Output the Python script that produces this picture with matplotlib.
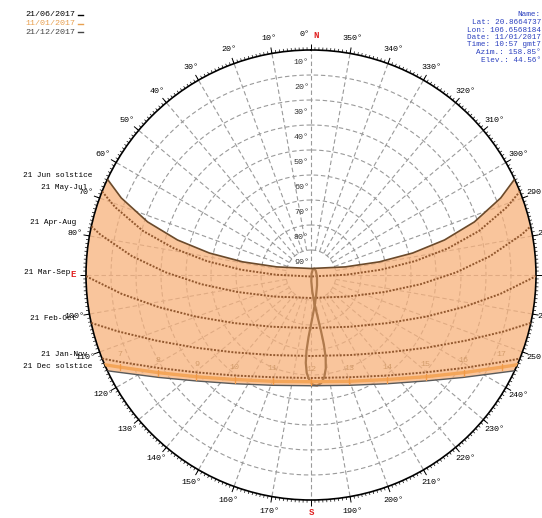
import numpy as np
import matplotlib
matplotlib.use("Agg")
import matplotlib.pyplot as plt

# sun positions, afternoon half (hour angle 0, 15, 30 ... deg, last = sunset)
# the morning half is the mirror image about the N-S line
paths = {
    "21 Jun solstice": ([87.4, 75.9, 62.1, 48.4, 34.8, 21.3, 8.1, 0.0],
                        [0.0, 283.3, 280.9, 282.2, 284.7, 288.0, 292.1, 295.2]),
    "21 May-Jul": ([89.4, 76.0, 62.0, 48.0, 34.2, 20.5, 7.1, 0.0],
                   [180.0, 270.4, 274.3, 277.6, 281.0, 284.7, 289.1, 291.8]),
    "21 Apr-Aug": ([80.8, 72.9, 59.8, 46.0, 32.0, 18.0, 4.1, 0.0],
                   [180.0, 239.7, 257.0, 265.2, 271.0, 276.0, 280.9, 282.5]),
    "21 Mar-Sep": ([68.8, 64.2, 53.8, 41.2, 27.7, 13.9, 0.0],
                   [180.0, 216.6, 237.9, 250.0, 258.1, 264.3, 269.7]),
    "21 Feb-Oct": ([57.6, 54.4, 46.2, 35.2, 22.8, 9.6, 0.0],
                   [180.0, 205.9, 225.1, 238.0, 247.0, 253.7, 257.7]),
    "21 Jan-Nov": ([48.8, 46.3, 39.4, 29.7, 18.3, 5.9, 0.0],
                   [180.0, 200.6, 217.4, 229.8, 238.8, 245.6, 248.2]),
    "21 Dec solstice": ([45.7, 43.3, 36.9, 27.7, 16.7, 4.6, 0.0],
                        [180.0, 199.1, 215.0, 227.1, 236.0, 242.8, 244.8]),
}
today_alt = [47.3, 44.8, 38.2, 28.7, 17.5, 5.3, 0.0]
today_az = [180.0, 199.8, 216.2, 228.4, 237.4, 244.2, 246.5]
today_hours = [12, 13, 14, 15, 16, 17]

# analemma at 12:00 local time, every 14 days through the year
analemma_alt = [46.1, 47.9, 50.8, 54.8, 59.7, 65.1, 70.7, 76.2, 81.2, 85.2, 87.5, 87.5, 87.1, 87.7,
                89.5, 87.5, 83.5, 78.7, 73.2, 67.4, 61.8, 56.6, 52.2, 48.8, 46.6, 45.7, 46.0]
analemma_az = [181.0, 179.1, 177.5, 176.6, 176.6, 177.7, 180.3, 184.9, 193.2, 210.2, 253.2, 308.4, 332.3, 342.6,
               335.3, 182.8, 184.4, 186.9, 188.9, 190.1, 190.5, 190.1, 189.0, 187.4, 185.4, 183.2, 181.1]

legend_dates = ["21/06/2017", "11/01/2017", "21/12/2017"]
info_lines = ["Name:", "Lat: 20.8664737", "Lon: 106.6568184", "Date: 11/01/2017",
              "Time: 10:57 gmt7", "Azim.: 158.85\u00b0", "Elev.: 44.56\u00b0"]
alt_rings = [10, 20, 30, 40, 50, 60, 70, 80, 90]

FONT = "Liberation Mono"
W, H = 542, 518


def full_path(alt, az):
    alt = np.asarray(alt)
    az = np.asarray(az)
    a = np.concatenate([alt[::-1], alt[1:]])
    z = np.concatenate([360.0 - az[::-1], az[1:]])
    return np.radians(z), 90.0 - a


fig = plt.figure(figsize=(W / 100, H / 100), dpi=100)
cx, cy, R = 311, 275, 225
ax = fig.add_axes([(cx - R) / W, (H - cy - R) / H, 2 * R / W, 2 * R / H], projection="polar")
ax.set_theta_zero_location("N")
ax.set_theta_direction(1)
ax.set_ylim(0, 90)
ax.set_xticks([])
ax.set_yticks([])
ax.grid(False)
ax.spines["polar"].set_linewidth(1.2)
ax.spines["polar"].set_color("black")

# dashed grid
grid_kw = dict(color="#9a9a9a", lw=0.8, dashes=(4, 2.5), zorder=1)
circle = np.radians(np.arange(0, 361, 1))
for a in alt_rings[:-1]:
    ax.plot(circle, np.full(circle.shape, 90 - a), **grid_kw)
for az in range(0, 360, 10):
    r0 = 0 if az % 180 == 0 else 10
    ax.plot([np.radians(az)] * 2, [r0, 90], **grid_kw)

# ring ticks
minor = np.radians(np.arange(0, 360, 1))
major = np.radians(np.arange(0, 360, 10))
ax.vlines(minor, 90, 91.1, color="black", lw=0.5, clip_on=False)
ax.vlines(major, 90, 92.4, color="black", lw=0.7, clip_on=False)

# azimuth labels
for az in range(10, 360, 10):
    if az in (90, 180, 270):
        continue
    ax.text(np.radians(az), 96, f"{az}\u00b0", ha="center", va="center",
            fontsize=6, family=FONT, clip_on=False)
ax.annotate("0\u00b0", xy=(0, 96), xytext=(-5, 0), textcoords="offset points",
            ha="center", va="center", fontsize=6, family=FONT, annotation_clip=False)
ax.annotate("N", xy=(0, 96), xytext=(4, 0), textcoords="offset points", ha="center", va="center",
            fontsize=6.5, family=FONT, color="#e02020", weight="bold", annotation_clip=False)
for az, lab in [(90, "E"), (180, "S"), (270, "W")]:
    ax.text(np.radians(az), 95, lab, ha="center", va="center", fontsize=6.5,
            family=FONT, color="#e02020", weight="bold", clip_on=False)

# altitude labels along the north line
for a in alt_rings:
    ax.annotate(f"{a}\u00b0", xy=(0, 95 - a), xytext=(-1.5, 0), textcoords="offset points",
                ha="right", va="center", fontsize=6, family=FONT, color="#333333", zorder=5)

# sun band between the solstices
jt, jr = full_path(*paths["21 Jun solstice"])
dt, dr = full_path(*paths["21 Dec solstice"])
arc_w = np.radians(np.linspace(np.degrees(jt[-1]), np.degrees(dt[-1]), 30))
arc_e = np.radians(np.linspace(np.degrees(dt[0]), np.degrees(jt[0]), 30))
band_t = np.concatenate([jt, arc_w, dt[::-1], arc_e])
band_r = np.concatenate([jr, np.full(30, 90.0), dr[::-1], np.full(30, 90.0)])
ax.fill(band_t, band_r, color="#f8b17a", alpha=0.74, lw=0, zorder=2)

names = list(paths)
for name in names[1:-1]:
    t, r = full_path(*paths[name])
    ax.plot(t, r, color="#93582e", lw=1.4, ls=(0, (1, 0.8)), zorder=3)
ax.plot(jt, jr, color="#6b4a2b", lw=1.2, zorder=4)
ax.plot(dt, dr, color="#5a5a5a", lw=1.0, zorder=4)

# noon analemma
ax.plot(np.radians(analemma_az), 90 - np.asarray(analemma_alt), color="#b07a4c", lw=1.6, zorder=3)

# today's path with hour marks
tt, tr = full_path(today_alt, today_az)
ax.plot(tt, tr, color="#f4a65a", lw=2.4, zorder=4)
hours = [24 - h for h in today_hours[:0:-1]] + today_hours
for t, r, h in zip(tt[1:-1], tr[1:-1], hours):
    ax.plot(t, r, marker="|", ms=4, color="#f09a48", zorder=5)
    ax.annotate(str(h), xy=(t, r), xytext=(0, 9), textcoords="offset points", ha="center",
                va="center", fontsize=6, family=FONT, color="#c9925f", alpha=0.8, zorder=5)

# path labels at sunrise
for name in names:
    t, r = full_path(*paths[name])
    ax.annotate(name, xy=(t[0], r[0]), xytext=(-11, 3), textcoords="offset points",
                ha="right", va="center", fontsize=5.6, family=FONT, annotation_clip=False)

# legend
leg_colors = ["black", "#e8a050", "#444444"]
for i, (d, c) in enumerate(zip(legend_dates, leg_colors)):
    y = 1 - (15 + 8.5 * i) / H
    fig.text(75 / W, y, d, ha="right", va="center", fontsize=6, family=FONT, color=c)
    fig.add_artist(plt.Line2D([78 / W, 83 / W], [y, y], color=c, lw=1))

# info box
for i, line in enumerate(info_lines):
    fig.text(541 / W, 1 - (15 + 7.5 * i) / H, line, ha="right", va="center",
             fontsize=5.5, family=FONT, color="#2a3fbf")

fig.savefig("out.png", dpi=100)
